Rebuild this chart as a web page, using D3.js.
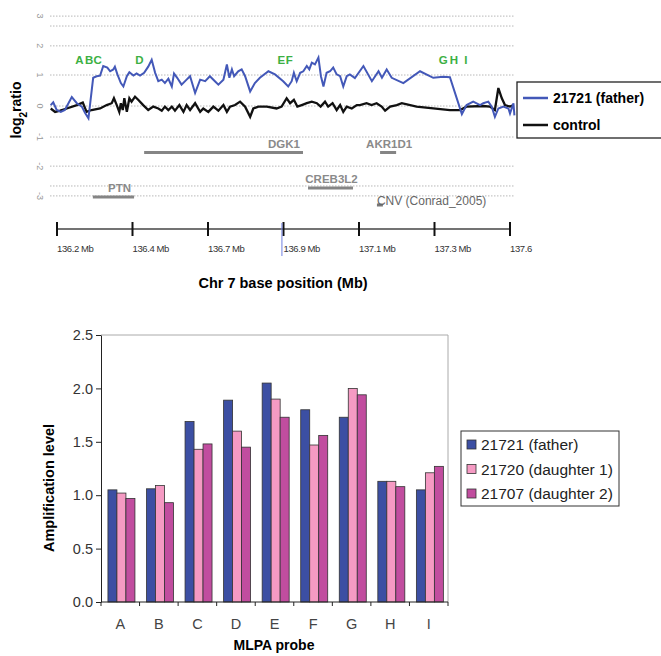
<!DOCTYPE html>
<html>
<head>
<meta charset="utf-8">
<script src="https://cdn.jsdelivr.net/npm/d3@7"></script>
<style>
  body { margin: 0; background: #fff; }
  svg { display: block; font-family: "Liberation Sans", Arial, sans-serif; }
</style>
</head>
<body>
<div id="chart"></div>
<script>

// ---- top panel data (array CGH, chr 7) ----
// positions in Mb, values in log2 ratio
var fatherPos = [136.150,136.158,136.169,136.182,136.195,136.217,136.233,136.249,136.259,136.270,136.285,136.296,136.307,136.317,136.330,136.339,136.349,136.354,136.362,136.373,136.381,136.392,136.400,136.413,136.423,136.434,136.447,136.460,136.471,136.482,136.492,136.503,136.513,136.524,136.535,136.542,136.552,136.566,136.582,136.593,136.609,136.625,136.641,136.656,136.672,136.683,136.699,136.710,136.718,136.726,136.733,136.746,136.757,136.768,136.784,136.799,136.815,136.842,136.863,136.889,136.905,136.916,136.923,136.932,136.943,136.953,136.964,136.972,136.980,136.990,137.001,137.009,137.017,137.027,137.038,137.048,137.059,137.070,137.080,137.091,137.101,137.117,137.144,137.171,137.192,137.203,137.218,137.234,137.271,137.324,137.366,137.398,137.419,137.457,137.472,137.493,137.515,137.525,137.541,137.552,137.562,137.573,137.589,137.605,137.610,137.621,137.624];
var fatherVal = [0.03,0.12,-0.13,-0.19,-0.13,0.29,0.09,-0.02,-0.22,-0.40,0.91,0.96,0.98,1.29,1.24,1.12,1.18,1.27,1.02,0.74,0.63,0.96,1.09,0.98,1.05,0.98,1.07,1.27,1.49,1.07,0.80,0.85,0.74,0.88,0.63,1.05,0.91,0.69,0.85,0.96,0.42,0.85,0.80,0.96,0.80,0.69,0.85,1.34,0.91,1.18,0.96,1.12,1.18,0.96,0.47,0.74,0.91,1.12,1.02,0.80,0.63,0.80,1.07,0.80,1.07,1.12,1.29,1.18,1.40,1.34,1.56,0.96,0.63,1.07,1.12,1.24,1.02,0.96,0.63,0.96,1.02,0.90,1.29,0.80,1.12,0.91,1.18,0.91,0.74,1.12,0.91,0.94,0.93,-0.26,0.03,0.14,0.03,0.09,0.14,-0.02,-0.35,-0.08,-0.02,-0.08,-0.24,0.09,-0.30];

var controlPos = [136.150,136.164,136.180,136.201,136.233,136.252,136.264,136.280,136.307,136.328,136.344,136.351,136.360,136.368,136.373,136.379,136.384,136.392,136.400,136.407,136.418,136.428,136.444,136.460,136.476,136.492,136.503,136.513,136.524,136.535,136.545,136.559,136.572,136.582,136.593,136.609,136.625,136.635,136.651,136.667,136.683,136.699,136.710,136.720,136.736,136.752,136.768,136.784,136.794,136.810,136.837,136.868,136.884,136.900,136.911,136.923,136.934,136.948,136.964,136.980,136.996,137.008,137.022,137.032,137.046,137.059,137.070,137.080,137.091,137.107,137.123,137.133,137.154,137.170,137.186,137.202,137.213,137.229,137.250,137.266,137.313,137.366,137.419,137.451,137.472,137.525,137.546,137.562,137.573,137.584,137.594,137.610,137.621];
var controlVal = [-0.08,-0.19,-0.15,-0.08,0.03,0.11,-0.19,-0.13,-0.08,0.03,0.09,0.25,0.03,-0.19,0.09,-0.13,0.25,-0.19,0.25,0.14,0.30,0.20,0.03,-0.13,-0.02,-0.08,-0.15,-0.02,-0.13,-0.02,-0.15,0.03,-0.19,0.03,-0.13,0.09,-0.19,-0.08,-0.19,-0.02,-0.15,0.03,-0.19,-0.02,0.03,0.14,-0.02,-0.35,-0.08,-0.02,-0.02,-0.08,-0.02,0.25,0.09,0.20,-0.02,0.03,0.09,0.14,0.09,-0.02,0.14,-0.02,0.09,-0.13,0.03,-0.19,-0.02,-0.08,0.03,0.03,0.09,0.03,0.09,-0.02,-0.15,-0.02,0.03,0.09,-0.02,-0.08,-0.13,-0.13,-0.02,0.00,-0.02,-0.13,0.58,0.25,0.03,-0.02,0.03];

// MLPA probe markers along the region
var probeNames = ["A","B","C","D","E","F","G","H","I"];
var probePos = [136.241,136.272,136.299,136.432,136.883,136.908,137.398,137.432,137.470];

// genes and CNV track
var geneNames = ["DGK1","AKR1D1","CREB3L2","PTN","CNV (Conrad_2005)"];
var geneStart = [136.447,137.197,136.968,136.284,137.187];
var geneEnd = [136.952,137.248,137.111,136.415,137.206];
var geneRow = [0,0,1,2,3];

var logTicks = [2.9,1.94,1,0,-1,-1.94,-2.9];
var logTickLabels = ["3","2","1","0","-1","-2","-3"];
var gridVals = [2.9,2.58,1.94,1,0,-1,-1.94,-2.58,-2.9];

var rulerTicks = [136.17,136.41,136.65,136.89,137.13,137.37,137.61];
var rulerLabels = ["136.2 Mb","136.4 Mb","136.7 Mb","136.9 Mb","137.1 Mb","137.3 Mb","137.6"];
var cursorPos = 136.885;

// ---- bottom panel data (MLPA) ----
var samples = ["21721 (father)","21720 (daughter 1)","21707 (daughter 2)"];
var father = [1.05,1.06,1.69,1.89,2.05,1.80,1.73,1.13,1.05];
var daughter1 = [1.02,1.09,1.43,1.60,1.90,1.47,2.00,1.13,1.21];
var daughter2 = [0.97,0.93,1.48,1.45,1.73,1.56,1.94,1.08,1.27];
var ampTicks = [0,0.5,1,1.5,2,2.5];

var svg = d3.select("#chart").append("svg")
    .attr("width", 661)
    .attr("height", 656);

// ================= top panel =================
var xTop = d3.scaleLinear().domain([136.17, 137.61]).range([57, 510]);
var yTop = d3.scaleLinear().domain([-1, 1]).range([137, 75]);

// dotted grid
svg.append("g").selectAll("line")
  .data(gridVals)
  .enter().append("line")
    .attr("x1", 50).attr("x2", 515)
    .attr("y1", function(d) { return yTop(d); })
    .attr("y2", function(d) { return yTop(d); })
    .attr("stroke", "#b8b8b8")
    .attr("stroke-width", 1)
    .attr("stroke-dasharray", "1.5,1.5");

// small rotated log2 tick labels
svg.append("g").selectAll("text")
  .data(logTicks)
  .enter().append("text")
    .attr("transform", function(d) { return "translate(40," + yTop(d) + ") rotate(90)"; })
    .attr("text-anchor", "middle")
    .attr("dy", "0.35em")
    .style("font-size", "9px")
    .style("fill", "#999")
    .text(function(d, i) { return logTickLabels[i]; });

svg.append("text")
    .attr("transform", "translate(21,110) rotate(-90)")
    .attr("text-anchor", "middle")
    .style("font-size", "14px")
    .style("font-weight", "bold")
    .html('log<tspan baseline-shift="sub" font-size="10px">2</tspan>ratio');

// genes
var rowY = d3.scaleOrdinal().domain([0,1,2,3]).range([152.5, 188, 197, 205]);
var labelAnchor = {"DGK1": "end", "PTN": "end", "AKR1D1": "middle", "CREB3L2": "middle", "CNV (Conrad_2005)": "start"};

var genes = svg.append("g");
geneNames.forEach(function(name, i) {
  var isCnv = name.indexOf("CNV") === 0;
  genes.append("line")
      .attr("x1", xTop(geneStart[i])).attr("x2", xTop(geneEnd[i]))
      .attr("y1", rowY(geneRow[i])).attr("y2", rowY(geneRow[i]))
      .attr("stroke", isCnv ? "#777" : "#858585")
      .attr("stroke-width", 3);
  var anchor = labelAnchor[name];
  var lx = anchor === "end" ? xTop(geneEnd[i]) - 3 :
           anchor === "middle" ? (xTop(geneStart[i]) + xTop(geneEnd[i])) / 2 + 1 : xTop(geneStart[i]);
  genes.append("text")
      .attr("x", lx)
      .attr("y", isCnv ? rowY(geneRow[i]) - 0.5 : rowY(geneRow[i]) - 5)
      .attr("text-anchor", anchor)
      .style("font-size", isCnv ? "12px" : "11.5px")
      .style("font-weight", isCnv ? "normal" : "bold")
      .style("fill", isCnv ? "#666" : "#8a8a8a")
      .text(name);
});

// probe letters
svg.append("g").selectAll("text")
  .data(probeNames)
  .enter().append("text")
    .attr("x", function(d, i) { return xTop(probePos[i]); })
    .attr("y", 64)
    .attr("text-anchor", "middle")
    .style("font-size", "11.5px")
    .style("font-weight", "bold")
    .style("fill", "#3cb043")
    .text(function(d) { return d; });

// profiles
var line = d3.line()
    .x(function(d) { return xTop(d[0]); })
    .y(function(d) { return yTop(d[1]); });

svg.append("path")
    .datum(controlPos.map(function(p, i) { return [p, controlVal[i]]; }))
    .attr("d", line)
    .attr("fill", "none")
    .attr("stroke", "#111")
    .attr("stroke-width", 2.3);

svg.append("path")
    .datum(fatherPos.map(function(p, i) { return [p, fatherVal[i]]; }))
    .attr("d", line)
    .attr("fill", "none")
    .attr("stroke", "#4358b8")
    .attr("stroke-width", 2);

// ruler
var ruler = svg.append("g");
ruler.append("line")
    .attr("x1", xTop(rulerTicks[0])).attr("x2", xTop(rulerTicks[rulerTicks.length - 1]))
    .attr("y1", 229).attr("y2", 229)
    .attr("stroke", "#444").attr("stroke-width", 1.3);
ruler.selectAll(".rt")
  .data(rulerTicks)
  .enter().append("line")
    .attr("x1", function(d) { return xTop(d); })
    .attr("x2", function(d) { return xTop(d); })
    .attr("y1", 222).attr("y2", 236)
    .attr("stroke", "#111").attr("stroke-width", 2);
ruler.append("line")
    .attr("x1", xTop(cursorPos)).attr("x2", xTop(cursorPos))
    .attr("y1", 223).attr("y2", 256)
    .attr("stroke", "#6f7fe0").attr("stroke-width", 1);
ruler.selectAll("text")
  .data(rulerTicks)
  .enter().append("text")
    .attr("x", function(d) { return xTop(d); })
    .attr("y", 252)
    .style("font-size", "9.5px")
    .style("letter-spacing", "-0.4px")
    .style("fill", "#333")
    .text(function(d, i) { return rulerLabels[i]; });

svg.append("text")
    .attr("x", 283).attr("y", 288)
    .attr("text-anchor", "middle")
    .style("font-size", "14.5px")
    .style("font-weight", "bold")
    .text("Chr 7 base position (Mb)");

// top legend
var legTop = svg.append("g");
legTop.append("rect")
    .attr("x", 517).attr("y", 82).attr("width", 160).attr("height", 56)
    .attr("fill", "#fff").attr("stroke", "#222").attr("stroke-width", 1.3);
[["21721 (father)", "#4358b8"], ["control", "#111"]].forEach(function(d, i) {
  legTop.append("line")
      .attr("x1", 523).attr("x2", 548)
      .attr("y1", 98 + i * 27).attr("y2", 98 + i * 27)
      .attr("stroke", d[1]).attr("stroke-width", 2.5);
  legTop.append("text")
      .attr("x", 553).attr("y", 103 + i * 27)
      .style("font-size", "14px")
      .style("font-weight", "bold")
      .text(d[0]);
});

// ================= bottom panel =================
var colors = ["#3c4fa3", "#f59ac3", "#c14d9f"];
var series = [father, daughter1, daughter2];

var x0 = d3.scaleBand().domain(probeNames).range([101, 448]).padding(0);
var x1 = d3.scaleBand().domain(samples)
    .range([x0.bandwidth() * 0.18, x0.bandwidth() * 0.88]);
var yAmp = d3.scaleLinear().domain([0, 2.5]).range([602, 335]);

// plot frame (top and right)
svg.append("path")
    .attr("d", "M101," + yAmp(2.5) + "H448V" + yAmp(0))
    .attr("fill", "none").attr("stroke", "#aaa").attr("stroke-width", 1);

var groups = svg.append("g").selectAll("g")
  .data(probeNames)
  .enter().append("g")
    .attr("transform", function(d) { return "translate(" + x0(d) + ",0)"; });

groups.selectAll("rect")
  .data(function(d, i) { return samples.map(function(s, j) { return {key: s, j: j, value: series[j][i]}; }); })
  .enter().append("rect")
    .attr("x", function(d) { return x1(d.key); })
    .attr("y", function(d) { return yAmp(d.value); })
    .attr("width", x1.bandwidth())
    .attr("height", function(d) { return yAmp(0) - yAmp(d.value); })
    .attr("fill", function(d) { return colors[d.j]; })
    .attr("stroke", "#333")
    .attr("stroke-width", 0.8);

// y axis
var yAxis = svg.append("g")
    .attr("transform", "translate(101,0)")
    .call(d3.axisLeft(yAmp).tickValues(ampTicks).tickFormat(d3.format(".1f")).tickSize(5).tickSizeOuter(0));
yAxis.select(".domain").attr("stroke", "#222");
yAxis.selectAll("line").attr("stroke", "#222");
yAxis.selectAll("text")
    .style("font-size", "14.5px")
    .style("font-family", "Liberation Sans, Arial, sans-serif")
    .style("fill", "#333");

// x axis with ticks between categories
var xAxis = svg.append("g").attr("transform", "translate(0," + yAmp(0) + ")");
xAxis.append("line").attr("x1", 101).attr("x2", 448).attr("stroke", "#222");
xAxis.selectAll(".xt")
  .data(probeNames.concat(["end"]))
  .enter().append("line")
    .attr("x1", function(d, i) { return 101 + i * x0.step(); })
    .attr("x2", function(d, i) { return 101 + i * x0.step(); })
    .attr("y1", 0).attr("y2", 4)
    .attr("stroke", "#222");
xAxis.selectAll("text")
  .data(probeNames)
  .enter().append("text")
    .attr("x", function(d) { return x0(d) + x0.bandwidth() / 2; })
    .attr("y", 27)
    .attr("text-anchor", "middle")
    .style("font-size", "14.5px")
    .style("fill", "#444")
    .text(function(d) { return d; });

svg.append("text")
    .attr("transform", "translate(54,488) rotate(-90)")
    .attr("text-anchor", "middle")
    .style("font-size", "14.5px")
    .style("font-weight", "bold")
    .text("Amplification level");

svg.append("text")
    .attr("x", 274).attr("y", 650)
    .attr("text-anchor", "middle")
    .style("font-size", "14px")
    .style("font-weight", "bold")
    .text("MLPA probe");

// bottom legend
var legBot = svg.append("g");
legBot.append("rect")
    .attr("x", 461).attr("y", 431).attr("width", 158).attr("height", 75)
    .attr("fill", "#fff").attr("stroke", "#333").attr("stroke-width", 1);
samples.forEach(function(s, i) {
  legBot.append("rect")
      .attr("x", 467).attr("y", 440 + i * 24.5).attr("width", 9).attr("height", 9)
      .attr("fill", colors[i]).attr("stroke", "#333").attr("stroke-width", 0.8);
  legBot.append("text")
      .attr("x", 481).attr("y", 450 + i * 24.5)
      .style("font-size", "15.5px")
      .style("fill", "#222")
      .text(s);
});

</script>
</body>
</html>
